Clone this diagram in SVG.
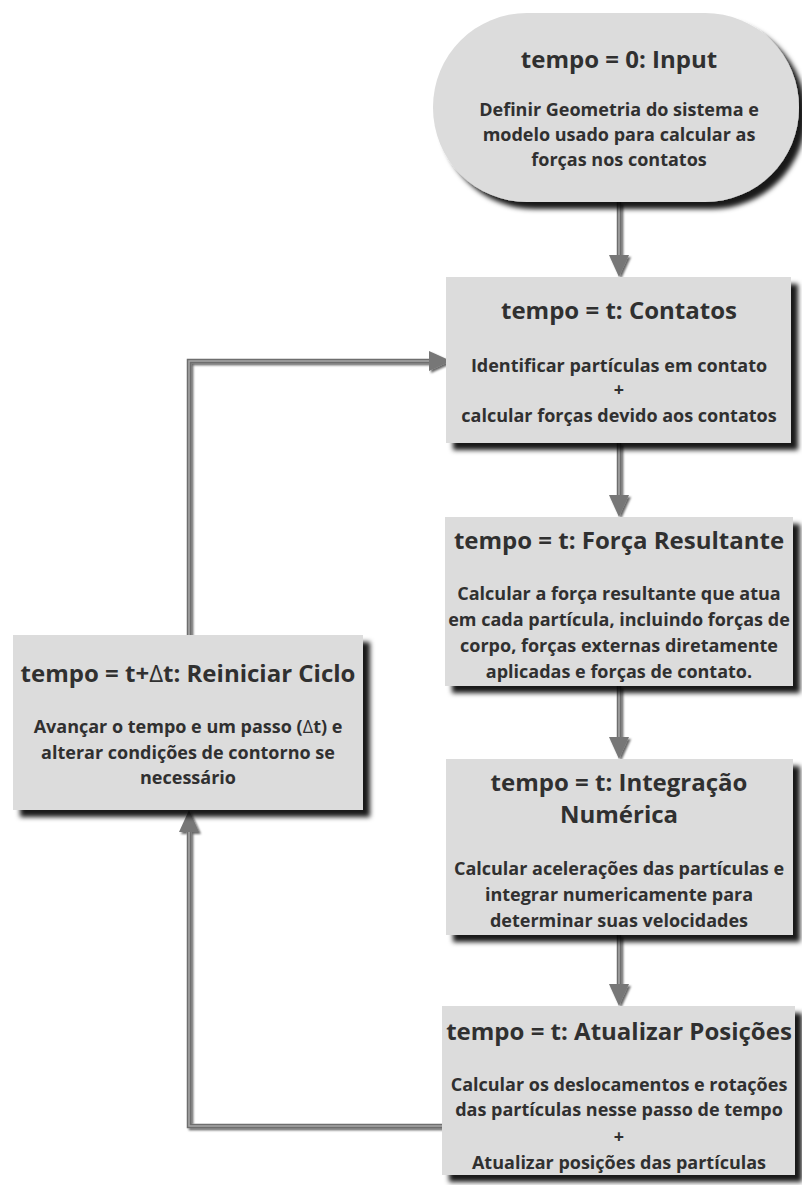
<svg xmlns="http://www.w3.org/2000/svg" width="802" height="1185" viewBox="0 0 802 1185">
<style>
  .node { fill: #dcdcdc; filter: url(#shadow); }
  .t { font-family: "Open Sans", "Liberation Sans", sans-serif; font-weight: bold; fill: #303030; text-anchor: middle; }
  .title { font-size: 24px; }
  .body { font-size: 18px; }
  .d { font-weight: normal; }
  .conn { fill: none; stroke: #6e6e6e; stroke-width: 4.5; marker-end: url(#arrow); }
  .conn-in { fill: none; stroke: #a8a8a8; stroke-width: 1.5; }
</style>
<defs>
  <filter id="shadow" x="-10%" y="-10%" width="130%" height="130%">
    <feDropShadow dx="7" dy="7" stdDeviation="2.5" flood-color="#000" flood-opacity="0.9"/>
  </filter>
  <filter id="lshadow" x="-20%" y="-20%" width="140%" height="140%">
    <feDropShadow dx="2" dy="2" stdDeviation="1" flood-color="#000" flood-opacity="0.6"/>
  </filter>
  <marker id="arrow" markerUnits="userSpaceOnUse" viewBox="0 0 22 20" refX="0" refY="10" markerWidth="22" markerHeight="20" orient="auto">
    <path d="M0,0 L22,10 L0,20 z" fill="#777777"/>
  </marker>
</defs>
<rect width="802" height="1185" fill="#ffffff"/>

<g id="connectors" filter="url(#lshadow)">
  <path class="conn" d="M619 202 V255"/>
  <path class="conn" d="M619 443 V495"/>
  <path class="conn" d="M619 686 V737"/>
  <path class="conn" d="M619 935 V984"/>
  <path class="conn" d="M442 1126 H189 V832"/>
  <path class="conn" d="M189 635 V361 H429"/>
  <path class="conn-in" d="M619 202 V255"/>
  <path class="conn-in" d="M619 443 V495"/>
  <path class="conn-in" d="M619 686 V737"/>
  <path class="conn-in" d="M619 935 V984"/>
  <path class="conn-in" d="M442 1126 H189 V832"/>
  <path class="conn-in" d="M189 635 V361 H429"/>
</g>

<g id="input">
  <rect class="node" x="433" y="13" width="366" height="189" rx="94" ry="94"/>
  <text class="t title" x="619" y="68">tempo = 0: Input</text>
  <text class="t body" x="619" y="116">Definir Geometria do sistema e</text>
  <text class="t body" x="619" y="141">modelo usado para calcular as</text>
  <text class="t body" x="619" y="166">forças nos contatos</text>
</g>

<g id="contatos">
  <rect class="node" x="446" y="277" width="345" height="166"/>
  <text class="t title" x="619" y="319">tempo = t: Contatos</text>
  <text class="t body" x="619" y="372">Identificar partículas em contato</text>
  <text class="t body" x="619" y="396">+</text>
  <text class="t body" x="619" y="422">calcular forças devido aos contatos</text>
</g>

<g id="forca">
  <rect class="node" x="445" y="517" width="348" height="169"/>
  <text class="t title" x="619" y="549">tempo = t: Força Resultante</text>
  <text class="t body" x="619" y="600">Calcular a força resultante que atua</text>
  <text class="t body" x="619" y="626">em cada partícula, incluindo forças de</text>
  <text class="t body" x="619" y="652">corpo, forças externas diretamente</text>
  <text class="t body" x="619" y="678">aplicadas e forças de contato.</text>
</g>

<g id="integracao">
  <rect class="node" x="446" y="759" width="347" height="176"/>
  <text class="t title" x="619" y="791">tempo = t: Integração</text>
  <text class="t title" x="619" y="823">Numérica</text>
  <text class="t body" x="619" y="875">Calcular acelerações das partículas e</text>
  <text class="t body" x="619" y="901">integrar numericamente para</text>
  <text class="t body" x="619" y="927">determinar suas velocidades</text>
</g>

<g id="atualizar">
  <rect class="node" x="442" y="1006" width="353" height="169"/>
  <text class="t title" x="619" y="1040">tempo = t: Atualizar Posições</text>
  <text class="t body" x="619" y="1091">Calcular os deslocamentos e rotações</text>
  <text class="t body" x="619" y="1116">das partículas nesse passo de tempo</text>
  <text class="t body" x="619" y="1143">+</text>
  <text class="t body" x="619" y="1169">Atualizar posições das partículas</text>
</g>

<g id="reiniciar">
  <rect class="node" x="13" y="635" width="350" height="175"/>
  <text class="t title" x="188" y="682">tempo = t+<tspan class="d">Δ</tspan>t: Reiniciar Ciclo</text>
  <text class="t body" x="188" y="733">Avançar o tempo e um passo (<tspan class="d">Δ</tspan>t) e</text>
  <text class="t body" x="188" y="759">alterar condições de contorno se</text>
  <text class="t body" x="188" y="784">necessário</text>
</g>
</svg>
